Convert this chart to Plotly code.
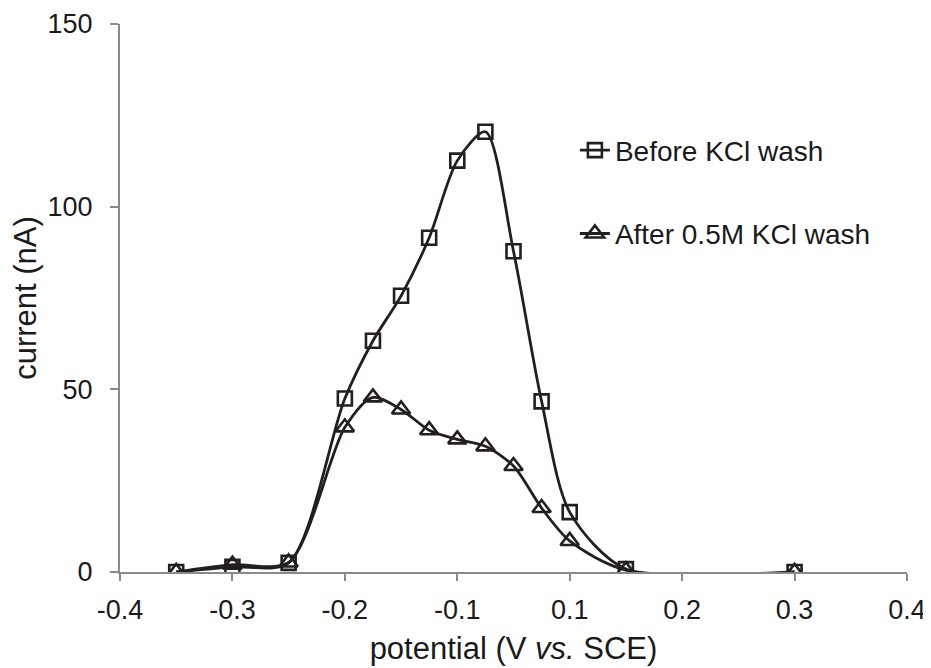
import plotly.graph_objects as go

# potential (V vs. SCE), plotted positions
potential = [-0.35, -0.3, -0.25, -0.2, -0.175, -0.15, -0.125, -0.1, -0.075, -0.05, -0.025, 0.0, 0.05, 0.2]
before_kcl = [0.0, 1.4, 2.5, 47.5, 63.3, 75.6, 91.5, 112.6, 120.5, 87.8, 46.7, 16.4, 0.8, 0.0]
after_kcl = [0.0, 2.0, 2.6, 39.6, 47.8, 44.5, 38.8, 36.3, 34.4, 29.0, 17.5, 8.5, 0.5, 0.0]

x_tickvals = [-0.4, -0.3, -0.2, -0.1, 0.0, 0.1, 0.2, 0.3]
x_ticktext = ["-0.4", "-0.3", "-0.2", "-0.1", "0.1", "0.2", "0.3", "0.4"]
y_tickvals = [0, 50, 100, 150]

ink = "#231f20"
axis_grey = "#8a8a8a"
font_family = "Liberation Sans, Arial, sans-serif"

fig = go.Figure()
fig.add_trace(go.Scatter(
    x=potential, y=before_kcl, mode="lines+markers", name="Before KCl wash",
    legendgroup="a",
    line=dict(color=ink, width=2.8, shape="spline", smoothing=0.8),
    marker=dict(symbol="square-open", size=14, color=ink, line=dict(width=2.6, color=ink)),
))
fig.add_trace(go.Scatter(
    x=potential, y=after_kcl, mode="lines+markers", name="After 0.5M KCl wash",
    legendgroup="b",
    line=dict(color=ink, width=2.8, shape="spline", smoothing=0.8),
    marker=dict(symbol="triangle-up-open", size=16, color=ink, line=dict(width=2.6, color=ink)),
))

# the page body adds an 8 px offset, so the figure is 8 px smaller each way
fig.update_layout(
    width=923, height=660,
    margin=dict(l=112, r=24, t=16, b=96),
    paper_bgcolor="white", plot_bgcolor="white",
    font=dict(family=font_family, size=27, color="#1a1a1a"),
    showlegend=True,
    legend=dict(
        x=0.578, y=0.815, xanchor="left", yanchor="top",
        bgcolor="rgba(0,0,0,0)", font=dict(size=28, color="#1a1a1a"),
        tracegroupgap=44,
    ),
    xaxis=dict(
        range=[-0.4, 0.3], tickmode="array", tickvals=x_tickvals, ticktext=x_ticktext,
        showline=True, linecolor=axis_grey, linewidth=2,
        ticks="outside", ticklen=7, tickwidth=2, tickcolor=axis_grey,
        ticklabelstandoff=6,
        showgrid=False, zeroline=False, automargin=False,
        tickfont=dict(size=27),
        title=dict(text="potential (V <i>vs.</i> SCE)", standoff=13, font=dict(size=31)),
    ),
    yaxis=dict(
        range=[0, 150], tickmode="array", tickvals=y_tickvals,
        showline=True, linecolor=axis_grey, linewidth=2,
        ticks="outside", ticklen=8, tickwidth=2, tickcolor=axis_grey,
        ticklabelstandoff=12,
        showgrid=False, zeroline=False, automargin=False,
        tickfont=dict(size=27),
        title=dict(text="current (nA)", standoff=4, font=dict(size=31)),
    ),
)

fig.write_html("out.html")
